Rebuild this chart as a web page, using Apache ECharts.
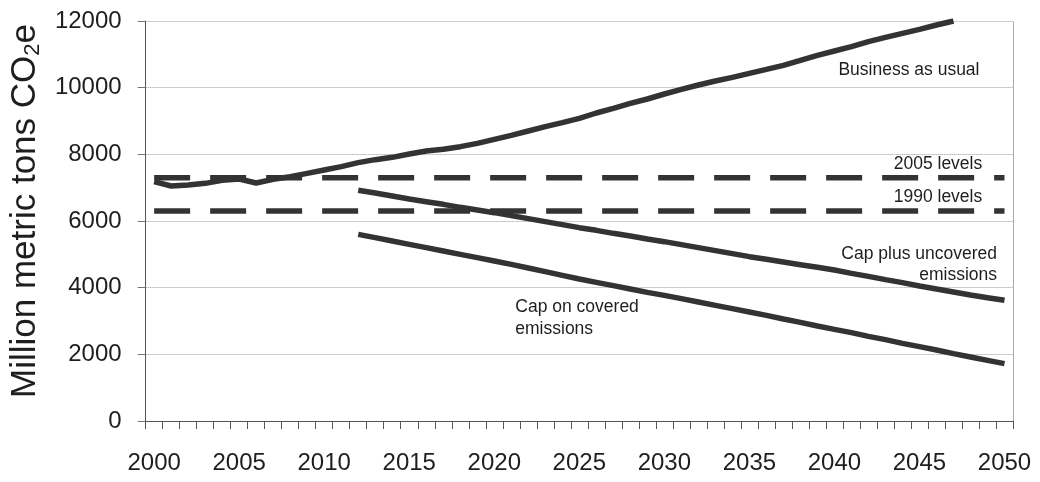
<!DOCTYPE html>
<html>
<head>
<meta charset="utf-8">
<script src="https://cdn.jsdelivr.net/npm/echarts@6/dist/echarts.min.js"></script>
<style>
html,body{margin:0;padding:0;background:#fff;}
#chart{width:1040px;height:482px;}
</style>
</head>
<body>
<div id="chart"></div>
<script>
const years = ['2000','2001','2002','2003','2004','2005','2006','2007','2008','2009',
  '2010','2011','2012','2013','2014','2015','2016','2017','2018','2019',
  '2020','2021','2022','2023','2024','2025','2026','2027','2028','2029',
  '2030','2031','2032','2033','2034','2035','2036','2037','2038','2039',
  '2040','2041','2042','2043','2044','2045','2046','2047','2048','2049','2050'];

const yTicks = [0, 2000, 4000, 6000, 8000, 10000, 12000];

const businessAsUsual = [7180,7050,7080,7130,7220,7260,7140,7250,7330,7430,
  7530,7630,7750,7840,7910,8010,8100,8150,8230,8330,
  8450,8570,8700,8830,8950,9080,9240,9380,9530,9660,
  9810,9950,10080,10200,10310,10430,10550,10670,10820,10970,
  11100,11230,11380,11510,11630,11750,11880,12000,null,null,null];

const capPlusUncovered = [null,null,null,null,null,null,null,null,null,null,
  null,null,6920,6840,6750,6660,6580,6500,6410,6330,
  6250,6160,6070,5980,5890,5800,5720,5630,5550,5460,
  5380,5290,5200,5110,5020,4930,4850,4770,4690,4610,
  4530,4430,4340,4240,4150,4050,3960,3870,3780,3700,3620];

const capOnCovered = [null,null,null,null,null,null,null,null,null,null,
  null,null,5600,5500,5400,5300,5200,5100,5000,4900,
  4800,4700,4590,4480,4370,4260,4160,4060,3960,3860,
  3770,3670,3570,3470,3370,3270,3170,3060,2960,2850,
  2750,2650,2540,2440,2330,2230,2130,2020,1920,1820,1720];

const level2005 = 7300;
const level1990 = 6300;

const FONT = "'Liberation Sans', Arial, sans-serif";
const INK = '#333333';
const TXT = '#1e1e1e';

function note(text, coord, align, offset, lh) {
  return {
    coord: coord,
    symbol: 'circle',
    symbolSize: 1,
    itemStyle: { color: 'rgba(0,0,0,0)' },
    label: {
      show: true, position: 'inside', formatter: text,
      align: align, verticalAlign: 'middle', offset: offset,
      fontSize: 17.5, fontFamily: FONT, color: TXT, lineHeight: lh || 21
    }
  };
}

const chart = echarts.init(document.getElementById('chart'), null, { renderer: 'canvas' });
chart.setOption({
  animation: false,
  backgroundColor: '#fff',
  grid: { left: 145, right: 27, top: 21, bottom: 61 },
  xAxis: {
    type: 'category',
    data: years,
    boundaryGap: true,
    axisLine: { show: true, lineStyle: { color: '#555', width: 1 } },
    axisTick: { show: true, interval: 0, length: 8, lineStyle: { color: '#555' } },
    axisLabel: { interval: 4, fontSize: 24, fontFamily: FONT, color: TXT, margin: 30 },
    splitLine: { show: false }
  },
  yAxis: [{
    type: 'value',
    min: yTicks[0], max: yTicks[yTicks.length - 1], interval: 2000,
    name: 'Million metric tons CO{s|2}e',
    nameLocation: 'middle',
    nameGap: 92,
    nameTextStyle: {
      fontSize: 35, fontFamily: FONT, color: TXT,
      padding: [0, 0, 0, 20],
      rich: { s: { fontSize: 22, fontFamily: FONT, color: TXT, verticalAlign: 'bottom', padding: [15, 0, 0, 0] } }
    },
    axisLine: { show: true, lineStyle: { color: '#555', width: 1 } },
    axisTick: { show: true, length: 8, lineStyle: { color: '#777' } },
    axisLabel: { fontSize: 24, fontFamily: FONT, color: TXT, margin: 24, formatter: v => String(v) },
    splitLine: { show: true, lineStyle: { color: '#9a9a9a', type: 'dotted', width: 1 } }
  }, {
    type: 'value', position: 'right',
    min: yTicks[0], max: yTicks[yTicks.length - 1], interval: 2000,
    axisLine: { show: true, lineStyle: { color: '#9a9a9a', type: 'dotted', width: 1 } },
    axisTick: { show: false }, axisLabel: { show: false }, splitLine: { show: false }
  }],
  series: [
    {
      name: '2005 levels', type: 'line', symbol: 'none',
      data: years.map(() => level2005),
      lineStyle: { color: INK, width: 5.5, type: [36, 20] },
      markPoint: { silent: true, data: [note('2005 levels', ['2046', 7710], 'center', [1.5, 0])] }
    },
    {
      name: '1990 levels', type: 'line', symbol: 'none',
      data: years.map(() => level1990),
      lineStyle: { color: INK, width: 5.5, type: [36, 20] },
      markPoint: { silent: true, data: [note('1990 levels', ['2046', 6720], 'center', [1.5, 0])] }
    },
    {
      name: 'Business as usual', type: 'line', symbol: 'none',
      data: businessAsUsual,
      lineStyle: { color: INK, width: 5.5 },
      markPoint: { silent: true, data: [note('Business as usual', ['2044', 10530], 'center', [6.5, 0])] }
    },
    {
      name: 'Cap plus uncovered emissions', type: 'line', symbol: 'none',
      data: capPlusUncovered,
      lineStyle: { color: INK, width: 5.5 },
      markPoint: { silent: true, data: [note('Cap plus uncovered\nemissions', ['2050', 4695], 'right', [-7.5, 0], 21)] }
    },
    {
      name: 'Cap on covered emissions', type: 'line', symbol: 'none',
      data: capOnCovered,
      lineStyle: { color: INK, width: 5.5 },
      markPoint: { silent: true, data: [note('Cap on covered\nemissions', ['2021', 3090], 'left', [4, 0], 22)] }
    }
  ]
});
</script>
</body>
</html>
